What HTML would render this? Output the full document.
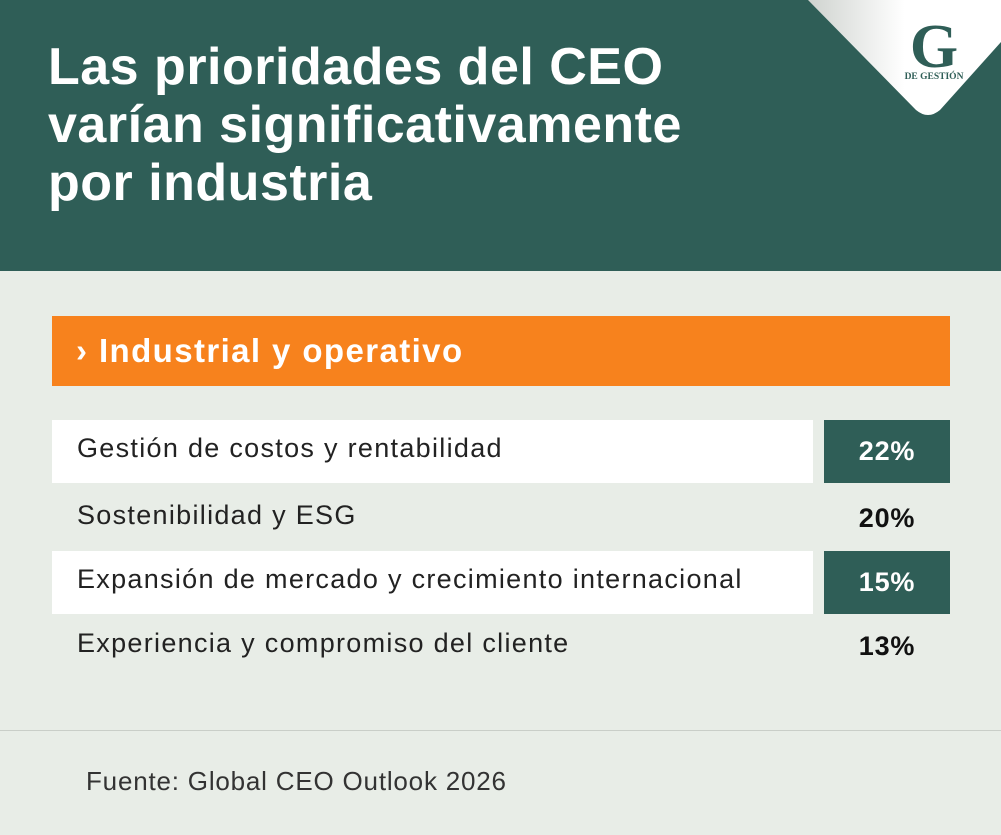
<!DOCTYPE html>
<html><head><meta charset="utf-8"><style>
body{margin:0;width:1001px;height:835px;background:#e8ede7;font-family:"Liberation Sans",sans-serif;position:relative;overflow:hidden}
.hdr{position:absolute;left:0;top:0;width:1001px;height:271px;background:#2f5e57}
.title{position:absolute;left:48px;top:38px;color:#fff;font-weight:bold;font-size:52px;line-height:58px;letter-spacing:0.5px}
.bar{position:absolute;left:52px;top:316px;width:898px;height:70px;background:#f7821d;color:#fff;font-weight:bold;font-size:33px;line-height:70px;box-sizing:border-box;padding-left:24px;letter-spacing:1.4px}
.row{position:absolute;left:52px;width:898px;height:63px}
.lbl{position:absolute;left:0;top:0;width:761px;height:63px;line-height:56px;font-size:27px;letter-spacing:1.3px;color:#222;padding-left:25px;box-sizing:border-box;white-space:nowrap}
.row.w .lbl{background:#fff}
.val{position:absolute;left:772px;top:0;width:126px;height:63px;line-height:63px;text-align:center;font-weight:bold;font-size:27px;letter-spacing:0.8px;color:#111}
.row.w .val{background:#2f5e57;color:#fff}
.line{position:absolute;left:0;top:730px;width:1001px;height:1px;background:#c9cec8}
.src{position:absolute;left:86px;top:766px;font-size:26px;letter-spacing:0.8px;color:#333}
</style></head><body>
<div class="hdr"></div>
<svg style="position:absolute;left:0;top:0" width="1001" height="130">
<defs><linearGradient id="g" x1="0" x2="1"><stop offset="0" stop-color="#cfd3cf"/><stop offset="0.5" stop-color="#fff"/></linearGradient></defs>
<path d="M808 0 L1001 0 L1001 42 L940 110 Q928 120 916 110 Z" fill="url(#g)"/>
<text x="934" y="67" text-anchor="middle" font-family="Liberation Serif,serif" font-weight="bold" font-size="62" fill="#2f5e57">G</text>
<text x="934" y="79" text-anchor="middle" font-family="Liberation Serif,serif" font-weight="bold" font-size="9.5" fill="#2f5e57">DE GESTIÓN</text>
</svg>
<div class="title">Las prioridades del CEO<br>varían significativamente<br>por industria</div>
<div class="bar">› Industrial y operativo</div>
<div class="row w" style="top:420px"><div class="lbl">Gestión de costos y rentabilidad</div><div class="val">22%</div></div>
<div class="row" style="top:487px"><div class="lbl">Sostenibilidad y ESG</div><div class="val">20%</div></div>
<div class="row w" style="top:551px"><div class="lbl">Expansión de mercado y crecimiento internacional</div><div class="val">15%</div></div>
<div class="row" style="top:615px"><div class="lbl">Experiencia y compromiso del cliente</div><div class="val">13%</div></div>
<div class="line"></div>
<div class="src">Fuente: Global CEO Outlook 2026</div>
</body></html>
